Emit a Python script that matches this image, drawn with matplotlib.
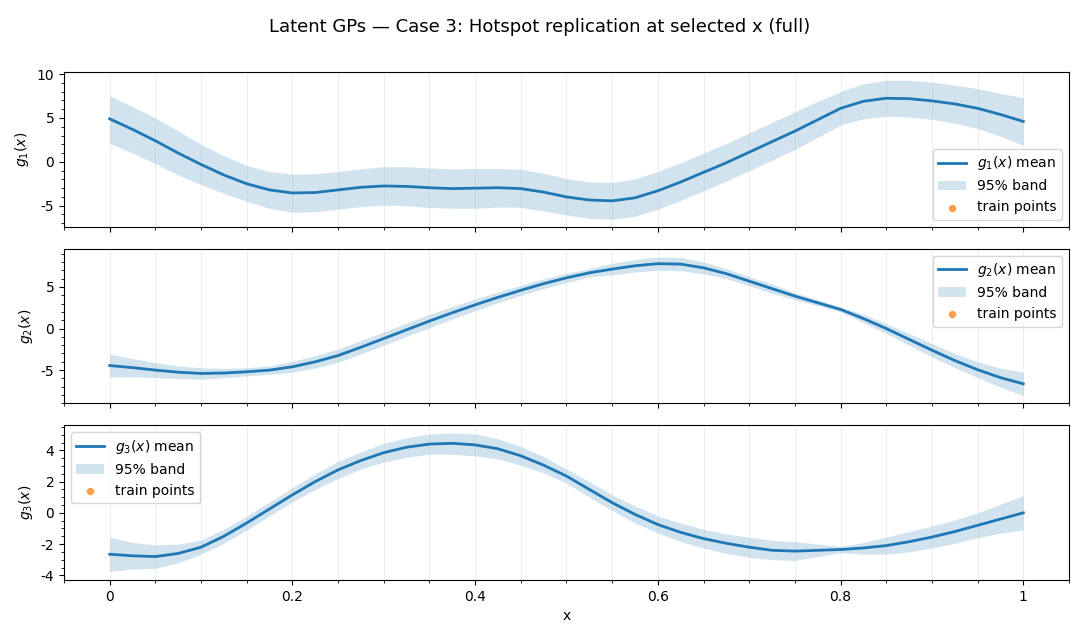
import numpy as np
import matplotlib
matplotlib.use("Agg")
import matplotlib.pyplot as plt
from matplotlib.ticker import AutoMinorLocator, FuncFormatter, MultipleLocator

plt.rcParams['axes.unicode_minus'] = False

x = [0.000, 0.025, 0.050, 0.075, 0.100, 0.125, 0.150, 0.175, 0.200, 0.225,
     0.250, 0.275, 0.300, 0.325, 0.350, 0.375, 0.400, 0.425, 0.450, 0.475,
     0.500, 0.525, 0.550, 0.575, 0.600, 0.625, 0.650, 0.675, 0.700, 0.725,
     0.750, 0.775, 0.800, 0.825, 0.850, 0.875, 0.900, 0.925, 0.950, 0.975, 1.000]

g1_mean = [4.9, 3.7, 2.4, 1.0, -0.3, -1.5, -2.5, -3.2, -3.55, -3.5,
           -3.2, -2.9, -2.75, -2.8, -2.95, -3.05, -3.0, -2.95, -3.05, -3.45,
           -4.0, -4.35, -4.45, -4.1, -3.3, -2.3, -1.2, -0.1, 1.1, 2.3,
           3.5, 4.8, 6.1, 6.9, 7.25, 7.2, 6.95, 6.6, 6.1, 5.4, 4.6]
g1_upper = [7.55, 6.3, 5.0, 3.5, 2.0, 0.7, -0.4, -1.1, -1.4, -1.35,
            -1.1, -0.8, -0.55, -0.55, -0.7, -0.8, -0.75, -0.75, -0.85, -1.3,
            -1.9, -2.3, -2.35, -1.95, -1.1, -0.1, 1.0, 2.1, 3.3, 4.5,
            5.7, 6.9, 8.0, 8.9, 9.3, 9.3, 9.1, 8.75, 8.35, 7.8, 7.3]
g1_lower = [2.1, 1.0, -0.2, -1.5, -2.6, -3.6, -4.5, -5.3, -5.75, -5.7,
            -5.4, -5.1, -4.95, -5.0, -5.2, -5.3, -5.3, -5.15, -5.2, -5.6,
            -6.05, -6.45, -6.55, -6.2, -5.4, -4.4, -3.3, -2.2, -1.0, 0.2,
            1.4, 2.8, 4.2, 4.9, 5.2, 5.1, 4.85, 4.4, 3.8, 2.9, 1.9]

g2_mean = [-4.45, -4.7, -5.0, -5.25, -5.4, -5.35, -5.2, -5.0, -4.6, -4.0,
           -3.25, -2.25, -1.2, -0.15, 0.9, 1.9, 2.85, 3.75, 4.6, 5.4,
           6.1, 6.7, 7.15, 7.55, 7.8, 7.75, 7.3, 6.6, 5.7, 4.8,
           3.9, 3.1, 2.3, 1.2, 0.0, -1.3, -2.6, -3.85, -4.95, -5.9, -6.65]
g2_upper = [-3.05, -3.6, -4.1, -4.5, -4.7, -4.8, -4.7, -4.5, -3.95, -3.25,
            -2.45, -1.45, -0.4, 0.65, 1.7, 2.65, 3.55, 4.4, 5.2, 6.0,
            6.65, 7.2, 7.85, 8.3, 8.6, 8.55, 8.0, 7.2, 6.25, 5.35,
            4.35, 3.45, 2.6, 1.7, 0.6, -0.6, -1.8, -3.0, -4.0, -4.75, -5.25]
g2_lower = [-5.85, -5.8, -5.9, -6.0, -6.1, -5.9, -5.7, -5.5, -5.25, -4.75,
            -4.05, -3.05, -2.0, -0.95, 0.1, 1.15, 2.15, 3.1, 4.0, 4.8,
            5.55, 6.2, 6.45, 6.8, 7.0, 6.95, 6.6, 6.0, 5.15, 4.25,
            3.45, 2.75, 2.0, 0.7, -0.6, -2.0, -3.4, -4.7, -5.9, -7.05, -8.05]

g3_mean = [-2.65, -2.75, -2.8, -2.6, -2.2, -1.5, -0.65, 0.25, 1.15, 2.0,
           2.75, 3.35, 3.85, 4.2, 4.4, 4.45, 4.35, 4.1, 3.65, 3.05,
           2.35, 1.5, 0.65, -0.1, -0.75, -1.25, -1.65, -1.95, -2.2, -2.4,
           -2.45, -2.4, -2.35, -2.25, -2.1, -1.85, -1.55, -1.2, -0.8, -0.4, 0.0]
g3_upper = [-1.55, -1.9, -2.05, -2.0, -1.75, -1.05, -0.2, 0.7, 1.6, 2.5,
            3.3, 3.9, 4.45, 4.8, 5.05, 5.1, 5.05, 4.75, 4.25, 3.6,
            2.8, 2.0, 1.15, 0.45, -0.2, -0.65, -1.05, -1.35, -1.55, -1.75,
            -1.85, -2.0, -2.15, -1.9, -1.55, -1.2, -0.85, -0.45, 0.0, 0.55, 1.1]
g3_lower = [-3.75, -3.6, -3.55, -3.2, -2.65, -1.95, -1.1, -0.2, 0.7, 1.5,
            2.2, 2.8, 3.25, 3.55, 3.75, 3.75, 3.65, 3.45, 3.05, 2.55,
            1.9, 1.0, 0.15, -0.65, -1.3, -1.85, -2.25, -2.6, -2.85, -3.0,
            -3.05, -2.8, -2.55, -2.65, -2.65, -2.5, -2.25, -1.95, -1.6, -1.3, -1.1]

train_x = []
train_y = []

series = [
    ("$g_1(x)$", g1_mean, g1_lower, g1_upper, "lower right", (-7.4, 10.23), 5),
    ("$g_2(x)$", g2_mean, g2_lower, g2_upper, "upper right", (-9.0, 9.6), 5),
    ("$g_3(x)$", g3_mean, g3_lower, g3_upper, "upper left", (-4.3, 5.6), 2),
]

fig, axes = plt.subplots(3, 1, figsize=(10.79, 6.38), dpi=100, sharex=True)
fig.subplots_adjust(left=0.0593, right=0.9907, top=0.887, bottom=0.0909, hspace=0.142)

fmt = FuncFormatter(lambda v, p: "%g" % round(v, 6))

for ax, (name, m, lo, hi, loc, ylim, major) in zip(axes, series):
    ax.plot(x, m, color="C0", lw=2, label=name + " mean")
    ax.fill_between(x, lo, hi, color="C0", alpha=0.2, lw=0, label="95% band")
    ax.scatter(train_x, train_y, s=18, color="C1", alpha=0.7, label="train points")
    ax.set_ylabel(name)
    ax.set_ylim(*ylim)
    ax.yaxis.set_major_locator(MultipleLocator(major))
    ax.yaxis.set_minor_locator(AutoMinorLocator())
    ax.xaxis.set_major_locator(MultipleLocator(0.2))
    ax.xaxis.set_minor_locator(MultipleLocator(0.05))
    ax.xaxis.set_major_formatter(fmt)
    ax.yaxis.set_major_formatter(fmt)
    ax.grid(True, axis="x", which="both", alpha=0.25, lw=0.6)
    ax.legend(loc=loc)

axes[-1].set_xlim(-0.05, 1.05)
axes[-1].set_xlabel("x")
fig.suptitle("Latent GPs — Case 3: Hotspot replication at selected x (full)", y=0.972, fontsize=13)

fig.savefig("out.png", dpi=100)
